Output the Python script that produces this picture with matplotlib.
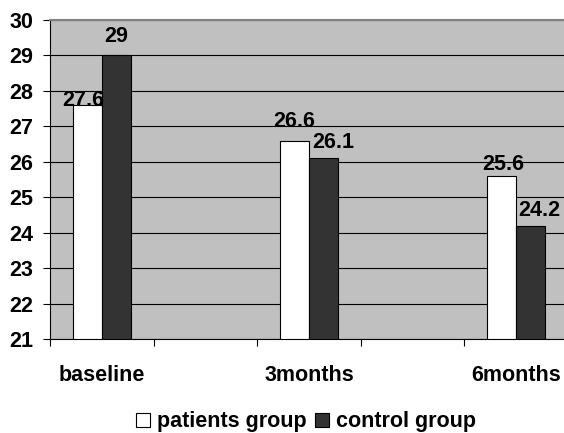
import numpy as np
import matplotlib
matplotlib.use("Agg")
import matplotlib.pyplot as plt
from matplotlib.patches import Patch

# data
categories = ["baseline", "3months", "6months"]
patients = [27.6, 26.6, 25.6]
control = [29, 26.1, 24.2]
series_names = ["patients group", "control group"]

# label nudges (pixels) to mimic the original placement
patients_offsets = [(-4, -1), (0, 14), (1.5, 6)]
control_offsets = [(0, 13.5), (10, 10), (8.5, 10)]

plt.rcParams['font.family'] = ['Liberation Sans', 'DejaVu Sans']
plt.rcParams['font.weight'] = 'bold'
FS = 15.5

fig = plt.figure(figsize=(5.64, 4.33), dpi=100)
ax = fig.add_axes([50 / 564, 94 / 433, 518 / 564, 319 / 433])
ax.set_facecolor('#C0C0C0')

# categories sit in every second slot of the axis
x = np.arange(len(categories)) * 2
w = 0.28
b1 = ax.bar(x - w / 2, np.array(patients) - 21, w, bottom=21, color='white',
            edgecolor='black', linewidth=0.8, zorder=3)
b2 = ax.bar(x + w / 2, np.array(control) - 21, w, bottom=21, color='#333333',
            edgecolor='black', linewidth=0.8, zorder=3)

for xi, v, off in zip(x - w / 2, patients, patients_offsets):
    ax.annotate(f"{v:g}", (xi, v), xytext=off, textcoords='offset pixels',
                ha='center', va='baseline', fontsize=FS, fontweight='bold', zorder=4)
for xi, v, off in zip(x + w / 2, control, control_offsets):
    ax.annotate(f"{v:g}", (xi, v), xytext=off, textcoords='offset pixels',
                ha='center', va='baseline', fontsize=FS, fontweight='bold', zorder=4)

ax.set_ylim(21, 30)
ax.set_xlim(-0.5, 4.5)
ax.set_yticks(range(21, 31))
ax.tick_params(axis='y', length=5, width=0.8, pad=7, labelsize=FS)
ax.yaxis.grid(True, color='black', linewidth=0.8)
ax.set_axisbelow(True)

ax.set_xticks(np.arange(-0.5, 4.6, 1))
ax.set_xticklabels([])
ax.set_xticks(x, minor=True)
ax.set_xticklabels(categories, minor=True, fontsize=FS, fontweight='bold')
ax.tick_params(axis='x', which='major', length=5, width=0.8)
ax.tick_params(axis='x', which='minor', length=0, pad=19)

for lab in ax.get_yticklabels():
    lab.set_fontweight('bold')

ax.spines['right'].set_visible(False)
ax.spines['top'].set_color('#808080')
ax.spines['top'].set_linewidth(1.5)
ax.spines['left'].set_linewidth(0.8)
ax.spines['bottom'].set_linewidth(0.8)

handles = [Patch(facecolor='white', edgecolor='black', linewidth=0.8),
           Patch(facecolor='#333333', edgecolor='black', linewidth=0.8)]
fig.legend(handles, series_names, loc='center', bbox_to_anchor=(306 / 564, 1 - 422 / 433),
           ncol=2, frameon=False, prop={'size': FS, 'weight': 'bold'},
           handlelength=0.65, handleheight=0.65, handletextpad=0.3, columnspacing=0.4)

fig.savefig('out.png', dpi=100)
